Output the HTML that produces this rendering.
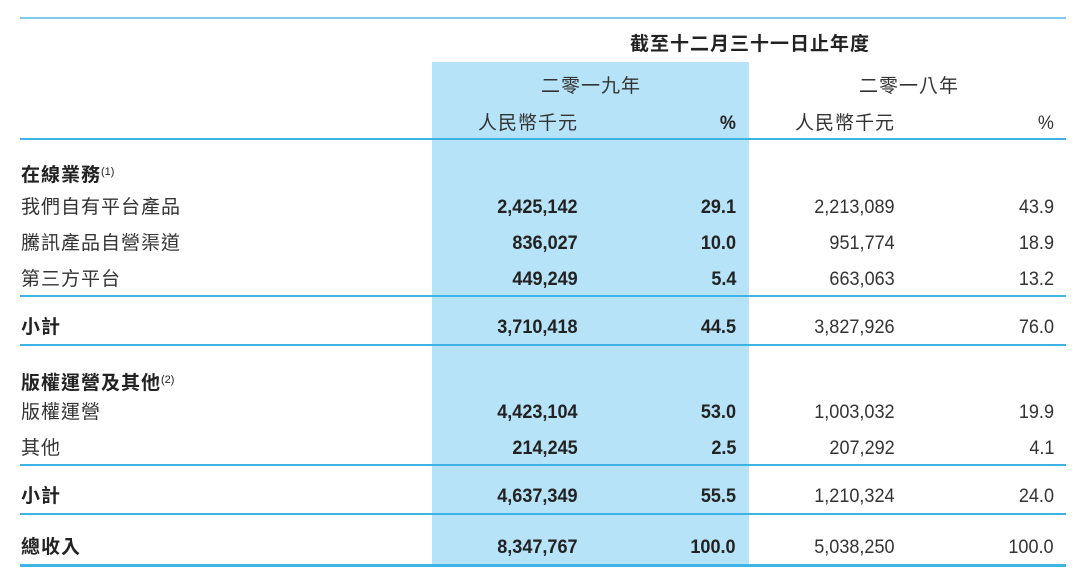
<!DOCTYPE html>
<html><head><meta charset="utf-8"><style>
body{margin:0;width:1080px;height:574px;background:#fff;position:relative;overflow:hidden;font-family:"Liberation Sans","Noto Sans CJK TC",sans-serif;color:#333}
.hl{position:absolute;left:432px;top:62px;width:317px;height:504px;background:#b7e3f8}
.ln{position:absolute;left:20px;width:1046px;height:2px;background:#3db4e3}
.t{position:absolute;font-size:19px;letter-spacing:1px;white-space:nowrap;line-height:24px}
.b{font-weight:bold;color:#222}
.n{position:absolute;font-size:19px;white-space:nowrap;line-height:24px;text-align:right;transform:scaleX(0.95);transform-origin:right}
.nb{font-weight:bold;color:#222}
sup{font-size:11px;letter-spacing:0;vertical-align:6px;font-weight:normal}
</style></head><body>
<div class="hl"></div>
<div class="ln" style="top:17px;height:1.5px;background:#7fcbe8"></div>
<div class="ln" style="top:138px"></div>
<div class="ln" style="top:295px"></div>
<div class="ln" style="top:344px"></div>
<div class="ln" style="top:464px"></div>
<div class="ln" style="top:513px"></div>
<div class="ln" style="top:564px;height:3px"></div>

<div class="t b" style="left:630px;top:33px">截至十二月三十一日止年度</div>
<div class="t" style="left:541px;top:75px">二零一九年</div>
<div class="t" style="left:859px;top:75px">二零一八年</div>
<div class="t" style="left:478px;top:112px">人民幣千元</div>
<div class="n nb" style="right:344px;top:112px">%</div>
<div class="t" style="left:795px;top:112px">人民幣千元</div>
<div class="n" style="right:26px;top:112px">%</div>

<div class="t b" style="left:21px;top:160px">在線業務<sup>(1)</sup></div>
<div class="t" style="left:21px;top:196px">我們自有平台產品</div>
<div class="t" style="left:21px;top:232px">騰訊產品自營渠道</div>
<div class="t" style="left:21px;top:268px">第三方平台</div>
<div class="t b" style="left:21px;top:316px">小計</div>
<div class="t b" style="left:21px;top:368px">版權運營及其他<sup>(2)</sup></div>
<div class="t" style="left:21px;top:401px">版權運營</div>
<div class="t" style="left:21px;top:437px">其他</div>
<div class="t b" style="left:21px;top:485px">小計</div>
<div class="t b" style="left:21px;top:536px">總收入</div>

<div class="n nb" style="right:502px;top:196px">2,425,142</div>
<div class="n nb" style="right:344px;top:196px">29.1</div>
<div class="n" style="right:185px;top:196px">2,213,089</div>
<div class="n" style="right:26px;top:196px">43.9</div>

<div class="n nb" style="right:502px;top:232px">836,027</div>
<div class="n nb" style="right:344px;top:232px">10.0</div>
<div class="n" style="right:185px;top:232px">951,774</div>
<div class="n" style="right:26px;top:232px">18.9</div>

<div class="n nb" style="right:502px;top:268px">449,249</div>
<div class="n nb" style="right:344px;top:268px">5.4</div>
<div class="n" style="right:185px;top:268px">663,063</div>
<div class="n" style="right:26px;top:268px">13.2</div>

<div class="n nb" style="right:502px;top:316px">3,710,418</div>
<div class="n nb" style="right:344px;top:316px">44.5</div>
<div class="n" style="right:185px;top:316px">3,827,926</div>
<div class="n" style="right:26px;top:316px">76.0</div>

<div class="n nb" style="right:502px;top:401px">4,423,104</div>
<div class="n nb" style="right:344px;top:401px">53.0</div>
<div class="n" style="right:185px;top:401px">1,003,032</div>
<div class="n" style="right:26px;top:401px">19.9</div>

<div class="n nb" style="right:502px;top:437px">214,245</div>
<div class="n nb" style="right:344px;top:437px">2.5</div>
<div class="n" style="right:185px;top:437px">207,292</div>
<div class="n" style="right:26px;top:437px">4.1</div>

<div class="n nb" style="right:502px;top:485px">4,637,349</div>
<div class="n nb" style="right:344px;top:485px">55.5</div>
<div class="n" style="right:185px;top:485px">1,210,324</div>
<div class="n" style="right:26px;top:485px">24.0</div>

<div class="n nb" style="right:502px;top:536px">8,347,767</div>
<div class="n nb" style="right:344px;top:536px">100.0</div>
<div class="n" style="right:185px;top:536px">5,038,250</div>
<div class="n" style="right:26px;top:536px">100.0</div>
</body></html>
